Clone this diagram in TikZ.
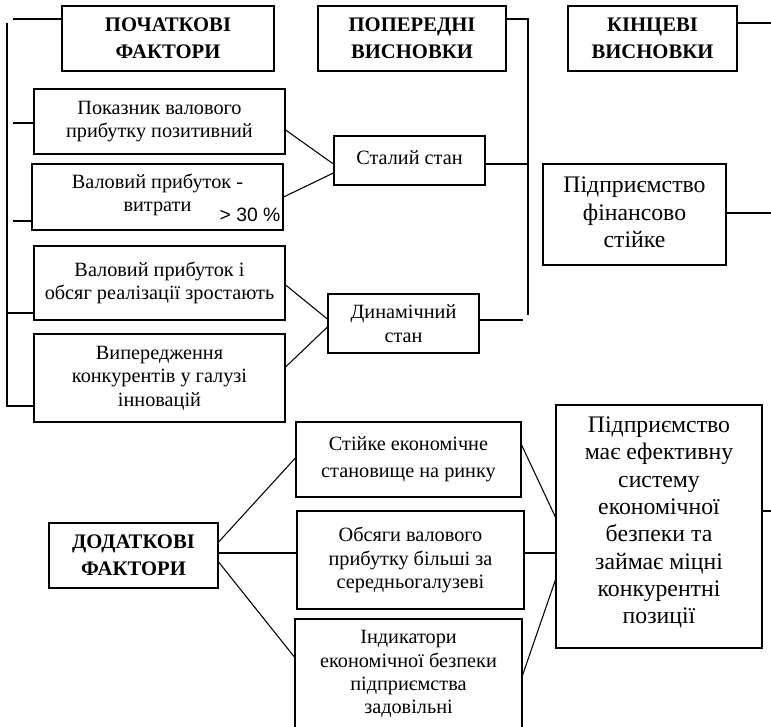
\documentclass[tikz,border=0pt]{standalone}
\usepackage{fontspec}
\setmainfont{Liberation Serif}
\newfontfamily\arialf{Liberation Sans}
\usetikzlibrary{fit,calc}
\begin{document}
\begin{tikzpicture}[x=0.75pt,y=-0.75pt,
  bx/.style={draw, line width=0.9pt, inner sep=0pt},
  tx/.style={inner sep=0pt, align=center, font=\fontsize{15.2}{17.5}\selectfont},
  hd/.style={inner sep=0pt, align=center, font=\fontsize{15.5}{20}\selectfont\bfseries},
  bg/.style={inner sep=0pt, align=center, font=\fontsize{17.8}{20.5}\selectfont},
  ln/.style={line width=0.8pt}]
\useasboundingbox (0,0) rectangle (771,727);
% headers
\node[bx, fit={(62,6)(274,71)}] (h1) {};
\node[hd] (h1t) at (h1) {ПОЧАТКОВІ\\ФАКТОРИ};
\node[bx, fit={(318,6)(506,71)}] (h2) {};
\node[hd] (h2t) at (h2) {ПОПЕРЕДНІ\\ВИСНОВКИ};
\node[bx, fit={(568,6)(737,71)}] (h3) {};
\node[hd] (h3t) at (h3) {КІНЦЕВІ\\ВИСНОВКИ};
% factors
\node[bx, fit={(34,89)(285,154)}] (b1) {};
\node[tx] (b1t) at (b1) {Показник валового\\прибутку позитивний};
\node[bx, fit={(32,164)(283,230)}] (b2) {};
\node[tx] (b2t) at ($(b2)+(0,-2)$) {Валовий прибуток -\\витрати};
\node[font=\arialf\fontsize{14.5}{17}\selectfont, inner sep=0pt] (pc) at (250,215) {> 30 \%};
\node[bx, fit={(34,246)(285,320)}] (b3) {};
\node[tx] (b3t) at (b3) {Валовий прибуток і\\обсяг реалізації зростають};
\node[bx, fit={(34,334)(285,422)}] (b4) {};
\node[tx] (b4t) at (b4) {Випередження\\конкурентів у галузі\\інновацій};
% conclusions
\node[bx, fit={(334,136)(485,185)}] (s) {};
\node[tx] (st0) at ($(s)+(0,-3)$) {Сталий стан};
\node[bx, fit={(328,294)(479,353)}] (d) {};
\node[tx] (dt) at (d) {Динамічний\\стан};
\node[bx, fit={(543,164)(726,265)}] (p1) {};
\node[bg] (p1t) at ($(p1)+(0,-2)$) {Підприємство\\фінансово\\стійке};
% additional
\node[bx, fit={(49,523)(218,588)}] (ad) {};
\node[hd] (adt) at (ad) {ДОДАТКОВІ\\ФАКТОРИ};
\node[bx, fit={(296,422)(521,497)}] (st) {};
\node[tx] (stt) at (st) {Стійке економічне\\[3pt]становище на ринку};
\node[bx, fit={(297,511)(524,609)}] (ob) {};
\node[tx] (obt) at (ob) {Обсяги валового\\прибутку більші за\\середньогалузеві};
\node[bx, fit={(295,619)(522,731)}] (ind) {};
\node[tx] (indt) at ($(ind)+(0,-1)$) {Індикатори\\економічної безпеки\\підприємства\\задовільні};
\node[bx, fit={(556,405)(762,648)}] (big) {};
\node[bg] (bigt) at ($(big)+(0,-4)$) {Підприємство\\має ефективну\\систему\\економічної\\безпеки та\\займає міцні\\конкурентні\\позиції};
% left bracket
\coordinate (L0) at (7,23);
\coordinate (L1) at (7,406);
\coordinate (L2) at (7,313);
\coordinate (t0) at (13,19);
\coordinate (t1) at (13,123);
\coordinate (t2) at (13,221);
\draw[ln] (L0) -- (L1) -- (L1 -| b4.west);
\draw[ln] (L2) -- (L2 -| b3.west);
\draw[ln] (t0) -- (t0 -| h1.west);
\draw[ln] (t1) -- (t1 -| b1.west);
\draw[ln] (t2) -- (t2 -| b2.west);
% factor links
\draw[ln] ($(b1.east)+(0,8.5)$) -- ($(s.west)+(0,3.5)$);
\draw[ln] (b2.east) -- ($(s.west)+(0,12.5)$);
\draw[ln] ($(b3.east)+(0,2)$) -- ($(d.west)+(0,-4.5)$);
\draw[ln] ($(b4.east)+(0,-11)$) -- ($(d.west)+(0,3.5)$);
% right bracket
\coordinate (R0) at (528,19);
\coordinate (R1) at (528,315);
\coordinate (dn) at (523,320);
\draw[ln] (R0 -| h2.east) -- (R0) -- (R1);
\draw[ln] ($(s.east)+(0,3.5)$) -- ++(43,0);
\draw[ln] (dn -| d.east) -- (dn);
% right edge ticks
\coordinate (e0) at (771,23);
\coordinate (e1) at (771,213);
\coordinate (e2) at (771,511);
\draw[ln] (e0 -| h3.east) -- (e0);
\draw[ln] (e1 -| p1.east) -- (e1);
\draw[ln] (e2 -| big.east) -- (e2);
% additional links
\draw[ln] ($(ad.east)+(0,-13.5)$) -- ($(st.west)+(0,-1.5)$);
\draw[ln] ($(ad.east)+(0,-2.5)$) -- ($(ob.west)+(0,-7)$);
\draw[ln] ($(ad.east)+(0,6.5)$) -- ($(ind.west)+(0,-18)$);
\draw[ln] ($(st.east)+(0,-14.5)$) -- ($(big.west)+(0,-9.5)$);
\draw[ln] ($(ob.east)+(0,-7)$) -- ($(big.west)+(0,26.5)$);
\draw[ln] (ind.east) -- ($(big.west)+(0,53.5)$);
\end{tikzpicture}
\end{document}
